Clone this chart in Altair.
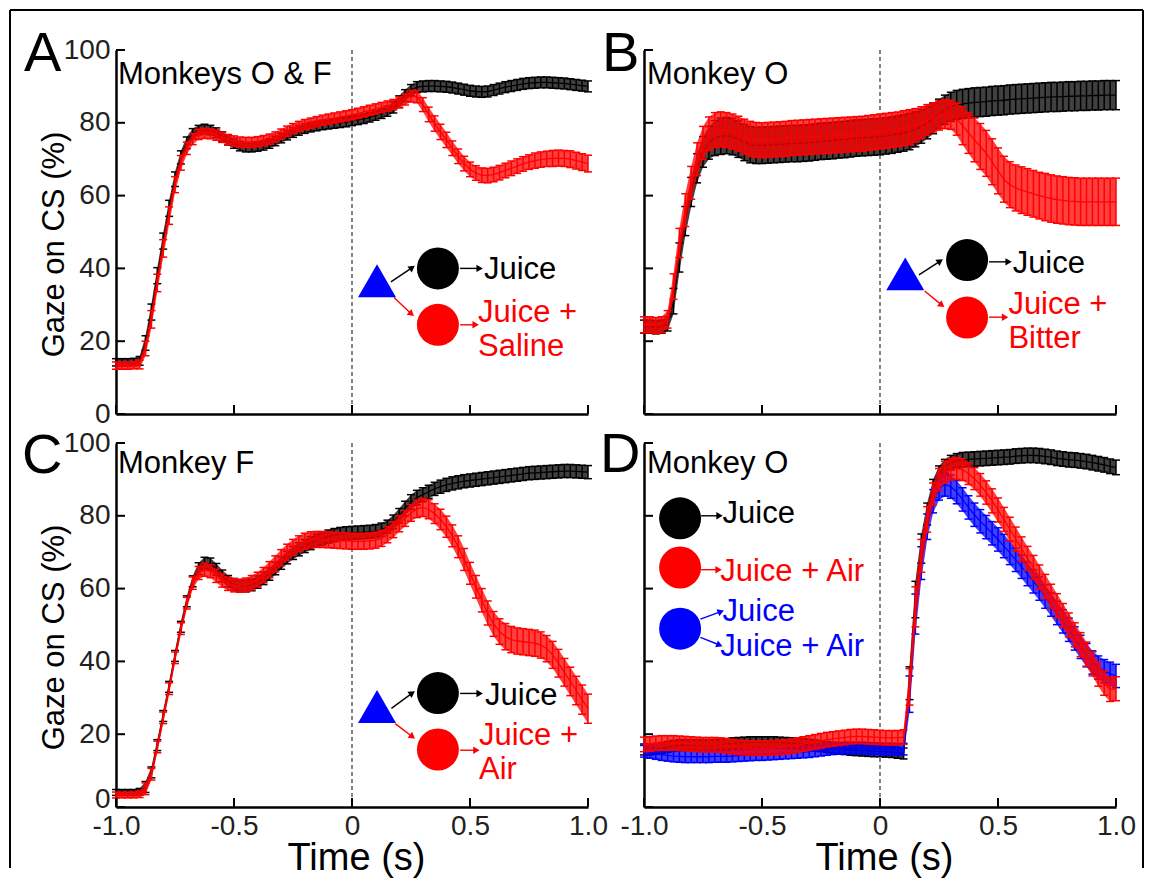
import altair as alt
import pandas as pd

# ---------------- sampling grid and axis ticks ----------------
TIME = [round(-1.0 + 0.025 * i, 3) for i in range(81)]
TIME_TICKS = [-1.0, -0.5, 0.0, 0.5, 1.0]
GAZE_TICKS = [0, 20, 40, 60, 80, 100]

# ---------------- Panel A : Monkeys O & F ----------------
A_JUICE = [
    14.2, 14.2, 14.2, 14.3, 14.6, 19.5, 28.0, 38.0, 47.5, 56.5,
    64.5, 70.5, 74.5, 77.0, 78.0, 78.3, 78.0, 77.3, 76.2, 75.2,
    74.3, 73.6, 73.3, 73.3, 73.5, 73.8, 74.3, 75.0, 75.8, 76.6,
    77.3, 77.9, 78.4, 78.8, 79.1, 79.4, 79.6, 79.8, 80.0, 80.2,
    80.5, 80.8, 81.1, 81.5, 82.0, 82.5, 83.2, 84.2, 85.8, 87.5,
    89.0, 89.8, 90.0, 90.1, 90.1, 90.0, 89.9, 89.7, 89.4, 89.1,
    88.8, 88.6, 88.5, 88.6, 89.0, 89.4, 89.8, 90.1, 90.4, 90.7,
    90.9, 91.0, 91.1, 91.1, 91.0, 90.9, 90.8, 90.6, 90.4, 90.2,
    90.0,
]
A_JUICE_SEM = [
    1.0, 1.0, 1.0, 1.0, 1.2, 2.0, 2.2, 2.2, 2.2, 2.2,
    2.0, 1.8, 1.6, 1.4, 1.3, 1.3, 1.3, 1.3, 1.3, 1.3,
    1.3, 1.3, 1.3, 1.3, 1.3, 1.3, 1.3, 1.3, 1.3, 1.3,
    1.3, 1.3, 1.3, 1.3, 1.3, 1.3, 1.3, 1.3, 1.3, 1.3,
    1.3, 1.3, 1.3, 1.3, 1.3, 1.3, 1.4, 1.5, 1.6, 1.6,
    1.5, 1.5, 1.5, 1.5, 1.5, 1.5, 1.5, 1.5, 1.5, 1.5,
    1.5, 1.5, 1.5, 1.5, 1.5, 1.5, 1.5, 1.5, 1.5, 1.5,
    1.5, 1.5, 1.5, 1.5, 1.5, 1.5, 1.5, 1.5, 1.5, 1.5,
    1.5,
]
A_SALINE = [
    13.3, 13.3, 13.3, 13.4, 13.6, 18.0, 26.0, 36.0, 45.5, 54.5,
    63.0, 69.0, 73.0, 75.5, 76.8, 77.1, 77.0, 76.6, 76.0, 75.4,
    75.0, 74.7, 74.6, 74.6, 74.8, 75.1, 75.5, 76.1, 76.9, 77.7,
    78.4, 79.0, 79.5, 79.9, 80.3, 80.7, 81.0, 81.3, 81.6, 81.9,
    82.2, 82.6, 83.0, 83.4, 83.8, 84.2, 84.6, 85.0, 85.6, 86.4,
    87.3, 87.2, 85.0, 82.3, 79.8, 77.5, 75.3, 73.0, 70.8, 68.8,
    67.2, 66.2, 65.6, 65.5, 65.8, 66.3, 66.9, 67.5, 68.1, 68.7,
    69.2, 69.6, 69.9, 70.1, 70.2, 70.3, 70.2, 70.0, 69.6, 69.2,
    68.8,
]
A_SALINE_SEM = [
    1.0, 1.0, 1.0, 1.0, 1.2, 2.0, 2.4, 2.4, 2.4, 2.4,
    2.2, 2.0, 1.7, 1.5, 1.4, 1.4, 1.4, 1.4, 1.4, 1.4,
    1.4, 1.4, 1.4, 1.4, 1.4, 1.4, 1.4, 1.4, 1.4, 1.4,
    1.4, 1.4, 1.4, 1.4, 1.4, 1.4, 1.4, 1.4, 1.4, 1.4,
    1.4, 1.4, 1.4, 1.4, 1.4, 1.4, 1.4, 1.4, 1.5, 1.5,
    1.6, 1.7, 1.9, 2.0, 2.1, 2.1, 2.1, 2.0, 2.0, 2.0,
    2.0, 2.0, 2.0, 2.0, 2.0, 2.0, 2.0, 2.0, 2.0, 2.0,
    2.0, 2.1, 2.1, 2.1, 2.2, 2.2, 2.2, 2.3, 2.3, 2.3,
    2.3,
]

# ---------------- Panel B : Monkey O, bitter ----------------
B_JUICE = [
    24.0, 24.0, 23.8, 24.0, 24.8, 31.0, 43.0, 53.0, 61.0, 67.5,
    72.0, 74.5, 75.8, 76.3, 76.5, 76.2, 75.5, 74.6, 74.0, 73.8,
    73.8, 73.9, 74.0, 74.1, 74.2, 74.3, 74.3, 74.4, 74.5, 74.7,
    74.9, 75.0, 75.1, 75.3, 75.4, 75.6, 75.8, 75.9, 76.0, 76.1,
    76.2, 76.4, 76.6, 76.9, 77.2, 77.6, 78.2, 79.0, 80.0, 81.2,
    82.5, 83.6, 84.4, 84.9, 85.2, 85.4, 85.6, 85.7, 85.8, 86.0,
    86.1, 86.2, 86.4, 86.5, 86.6, 86.7, 86.8, 86.9, 87.0, 87.1,
    87.1, 87.2, 87.3, 87.3, 87.4, 87.4, 87.5, 87.5, 87.6, 87.6,
    87.6,
]
B_JUICE_SEM = [
    1.8, 1.8, 1.8, 1.8, 2.0, 3.5, 4.0, 4.0, 4.0, 4.0,
    4.2, 4.5, 4.8, 5.0, 5.0, 5.0, 5.0, 5.0, 5.0, 5.0,
    5.0, 5.0, 5.0, 5.0, 5.0, 5.0, 5.0, 5.0, 5.0, 5.0,
    5.0, 5.0, 5.0, 5.0, 5.0, 5.0, 5.0, 5.0, 5.0, 5.0,
    5.0, 5.0, 5.0, 5.0, 5.0, 5.0, 4.8, 4.6, 4.4, 4.2,
    4.0, 4.0, 4.0, 4.0, 4.0, 4.0, 4.0, 4.0, 4.0, 4.0,
    4.0, 4.0, 4.0, 4.0, 4.0, 4.0, 4.0, 4.0, 4.0, 4.0,
    4.0, 4.0, 4.0, 4.0, 4.0, 4.0, 4.0, 4.0, 4.0, 4.0,
    4.0,
]
B_BITTER = [
    24.5, 24.5, 24.3, 24.5, 26.0, 35.0, 47.0, 56.0, 63.5, 70.0,
    74.5, 77.0, 78.0, 78.2, 78.0, 77.6, 77.0, 76.2, 75.6, 75.3,
    75.2, 75.3, 75.4, 75.5, 75.6, 75.8, 75.9, 76.0, 76.1, 76.2,
    76.3, 76.4, 76.5, 76.6, 76.7, 76.8, 76.9, 77.0, 77.2, 77.4,
    77.6, 77.8, 78.0, 78.2, 78.5, 78.8, 79.3, 80.0, 80.8, 81.5,
    82.0, 82.4, 82.2, 81.0, 79.2, 77.2, 75.3, 73.5, 71.6, 69.3,
    66.8, 64.5, 63.0, 62.1, 61.5, 61.0, 60.5, 60.0, 59.6, 59.2,
    58.9, 58.7, 58.5, 58.4, 58.3, 58.3, 58.3, 58.3, 58.3, 58.3,
    58.3,
]
B_BITTER_SEM = [
    2.2, 2.2, 2.2, 2.2, 2.4, 3.5, 4.0, 4.5, 4.5, 4.5,
    4.5, 4.6, 4.8, 4.8, 4.8, 4.8, 4.8, 4.8, 4.8, 4.8,
    4.8, 4.8, 4.8, 4.8, 4.8, 4.8, 4.8, 4.8, 4.8, 4.8,
    4.8, 4.8, 4.8, 4.8, 4.8, 4.8, 4.8, 4.8, 4.8, 4.8,
    4.8, 4.8, 4.8, 4.8, 4.8, 4.8, 4.6, 4.4, 4.2, 4.0,
    4.0, 4.0, 4.0, 4.4, 5.2, 5.6, 6.0, 6.3, 6.3, 6.3,
    6.3, 6.3, 6.3, 6.3, 6.4, 6.4, 6.4, 6.4, 6.5, 6.5,
    6.5, 6.5, 6.5, 6.5, 6.5, 6.5, 6.5, 6.5, 6.5, 6.5,
    6.5,
]

# ---------------- Panel C : Monkey F, air ----------------
C_JUICE = [
    4.0, 4.0, 4.0, 4.0, 4.2, 5.5, 9.5, 17.0, 25.0, 33.0,
    41.5, 49.5, 56.5, 62.0, 65.5, 67.0, 66.8, 65.3, 63.5, 62.0,
    61.2, 60.8, 60.7, 61.0, 61.8, 62.8, 64.0, 65.5, 67.0, 68.5,
    69.8, 70.8, 71.7, 72.5, 73.2, 73.8, 74.3, 74.7, 75.0, 75.2,
    75.3, 75.4, 75.5, 75.6, 75.8, 76.2, 77.0, 78.3, 80.0, 82.0,
    83.8, 85.0, 85.8, 86.6, 87.4, 88.0, 88.5, 88.9, 89.2, 89.5,
    89.7, 89.9, 90.1, 90.3, 90.5, 90.7, 90.9, 91.1, 91.3, 91.5,
    91.7, 91.8, 91.9, 92.0, 92.1, 92.2, 92.3, 92.3, 92.2, 92.1,
    92.0,
]
C_JUICE_SEM = [
    0.8, 0.8, 0.8, 0.8, 0.9, 1.5, 1.5, 1.5, 1.5, 1.5,
    1.5, 1.5, 1.5, 1.5, 1.6, 1.6, 1.6, 1.6, 1.6, 1.6,
    1.6, 1.6, 1.6, 1.6, 1.7, 1.7, 1.7, 1.7, 1.7, 1.7,
    1.8, 1.8, 1.8, 1.8, 1.8, 1.8, 1.8, 1.8, 1.8, 1.8,
    1.8, 1.8, 1.8, 1.8, 1.8, 1.8, 1.8, 1.9, 2.0, 2.0,
    2.0, 2.0, 1.9, 1.8, 1.8, 1.8, 1.8, 1.8, 1.8, 1.8,
    1.8, 1.8, 1.8, 1.8, 1.8, 1.8, 1.8, 1.8, 1.8, 1.8,
    1.8, 1.8, 1.8, 1.8, 1.8, 1.8, 1.8, 1.8, 1.8, 1.8,
    1.8,
]
C_AIR = [
    3.3, 3.3, 3.3, 3.3, 3.5, 5.0, 9.0, 16.5, 24.5, 32.5,
    41.0, 49.0, 56.0, 61.5, 64.3, 65.2, 64.8, 63.5, 62.2, 61.3,
    60.9, 60.8, 61.0, 61.6, 62.5, 63.7, 65.2, 66.8, 68.5, 70.0,
    71.3, 72.3, 73.0, 73.4, 73.5, 73.5, 73.4, 73.3, 73.2, 73.1,
    73.0, 73.0, 73.0, 73.1, 73.3, 73.8, 74.8, 76.2, 77.8, 79.3,
    80.8, 81.9, 82.3, 81.8, 80.6, 79.0, 77.0, 74.5, 71.5, 68.0,
    64.2, 60.5, 56.8, 53.3, 50.3, 48.2, 46.8, 46.0, 45.6, 45.4,
    45.2, 45.0, 44.5, 43.5, 41.8, 39.5, 37.0, 34.5, 32.0, 29.5,
    27.0,
]
C_AIR_SEM = [
    0.8, 0.8, 0.8, 0.8, 0.9, 1.6, 1.6, 1.6, 1.6, 1.6,
    1.6, 1.6, 1.6, 1.7, 1.8, 1.8, 1.8, 1.8, 1.8, 1.8,
    1.8, 1.8, 1.9, 2.0, 2.0, 2.1, 2.2, 2.2, 2.2, 2.2,
    2.2, 2.2, 2.2, 2.2, 2.2, 2.2, 2.2, 2.2, 2.2, 2.2,
    2.2, 2.2, 2.2, 2.2, 2.2, 2.2, 2.2, 2.2, 2.2, 2.2,
    2.3, 2.4, 2.5, 2.6, 2.7, 2.8, 2.9, 3.0, 3.0, 3.0,
    3.0, 3.1, 3.2, 3.3, 3.4, 3.5, 3.6, 3.6, 3.6, 3.6,
    3.6, 3.6, 3.6, 3.6, 3.7, 3.8, 3.8, 3.9, 3.9, 4.0,
    4.0,
]

# ---------------- Panel D : Monkey O, air vs uncertain ----------------
D_JUICE = [
    15.8, 15.8, 16.0, 16.2, 16.5, 16.8, 17.0, 17.0, 17.0, 17.0,
    16.9, 16.9, 17.0, 17.1, 17.3, 17.5, 17.6, 17.7, 17.8, 17.8,
    17.8, 17.8, 17.8, 17.7, 17.6, 17.5, 17.4, 17.3, 17.1, 16.9,
    16.7, 16.5, 16.3, 16.1, 15.9, 15.7, 15.6, 15.5, 15.4, 15.3,
    15.3, 15.2, 15.1, 14.9, 14.7, 34.0, 57.0, 71.0, 80.5, 87.5,
    91.5, 93.5, 94.6, 95.1, 95.4, 95.5, 95.6, 95.7, 95.8, 95.9,
    96.0, 96.1, 96.2, 96.4, 96.5, 96.6, 96.6, 96.5, 96.3, 96.1,
    95.8, 95.6, 95.4, 95.3, 95.1, 94.9, 94.6, 94.3, 94.0, 93.6,
    93.3,
]
D_JUICE_SEM = [
    1.5, 1.5, 1.5, 1.5, 1.5, 1.5, 1.5, 1.5, 1.5, 1.5,
    1.5, 1.5, 1.5, 1.5, 1.5, 1.5, 1.5, 1.5, 1.5, 1.5,
    1.5, 1.5, 1.5, 1.5, 1.5, 1.5, 1.5, 1.5, 1.5, 1.5,
    1.5, 1.5, 1.5, 1.5, 1.5, 1.5, 1.5, 1.5, 1.5, 1.5,
    1.5, 1.5, 1.5, 1.5, 1.5, 4.5, 5.0, 4.0, 3.0, 2.5,
    2.2, 2.0, 2.0, 2.0, 2.0, 2.0, 2.0, 2.0, 2.0, 2.0,
    2.0, 2.0, 2.0, 2.0, 2.0, 2.0, 2.0, 2.0, 2.0, 2.0,
    2.0, 2.0, 2.0, 2.0, 2.0, 2.0, 2.0, 2.0, 2.0, 2.0,
    2.0,
]
D_AIR = [
    17.2, 17.3, 17.5, 17.6, 17.6, 17.6, 17.5, 17.4, 17.3, 17.2,
    17.1, 17.1, 17.1, 17.0, 16.8, 16.6, 16.4, 16.3, 16.2, 16.2,
    16.2, 16.2, 16.3, 16.4, 16.5, 16.7, 17.0, 17.3, 17.6, 17.9,
    18.2, 18.5, 18.7, 18.9, 19.1, 19.3, 19.4, 19.4, 19.3, 19.2,
    19.1, 19.0, 19.0, 19.0, 19.2, 33.0, 55.0, 69.0, 79.0, 86.0,
    90.0, 92.0, 92.8, 93.0, 92.7, 91.6, 90.2, 88.5, 86.4, 84.1,
    81.6, 79.0, 76.3, 73.6, 70.9, 68.3, 65.8, 63.2, 60.6, 57.9,
    55.3, 52.6, 50.0, 47.3, 44.6, 42.0, 39.3, 36.5, 34.0, 32.3,
    32.5,
]
D_AIR_SEM = [
    2.0, 2.0, 2.0, 2.0, 2.0, 2.0, 2.0, 2.0, 2.0, 2.0,
    2.0, 2.0, 2.0, 2.0, 2.0, 2.0, 2.0, 2.0, 2.0, 2.0,
    2.0, 2.0, 2.0, 2.0, 2.0, 2.0, 2.0, 2.0, 2.0, 2.0,
    2.0, 2.0, 2.0, 2.0, 2.0, 2.0, 2.0, 2.0, 2.0, 2.0,
    2.0, 2.0, 2.0, 2.0, 2.0, 5.0, 5.5, 4.5, 3.5, 3.0,
    3.0, 3.0, 3.0, 3.0, 3.0, 3.0, 3.0, 3.1, 3.2, 3.3,
    3.3, 3.3, 3.3, 3.3, 3.3, 3.3, 3.3, 3.3, 3.3, 3.3,
    3.3, 3.3, 3.3, 3.3, 3.3, 3.3, 3.3, 3.3, 3.3, 3.3,
    3.3,
]
D_MIX = [
    15.3, 15.0, 14.7, 14.4, 14.2, 14.0, 13.9, 13.8, 13.8, 13.8,
    13.8, 13.8, 13.9, 13.9, 13.9, 14.0, 14.1, 14.2, 14.3, 14.4,
    14.4, 14.5, 14.6, 14.7, 14.8, 14.9, 15.0, 15.1, 15.2, 15.4,
    15.6, 15.8, 16.0, 16.1, 16.2, 16.2, 16.2, 16.2, 16.1, 16.0,
    16.0, 15.9, 15.9, 15.8, 15.9, 31.0, 53.0, 67.0, 77.0, 84.0,
    87.5, 88.6, 88.0, 86.5, 84.5, 82.3, 80.3, 78.5, 76.9, 75.2,
    73.5, 71.7, 69.8, 67.9, 66.0, 64.0, 62.0, 60.0, 57.8, 55.6,
    53.3, 51.0, 48.7, 46.3, 44.0, 41.7, 39.7, 38.3, 37.3, 36.6,
    36.0,
]
D_MIX_SEM = [
    1.6, 1.6, 1.6, 1.6, 1.6, 1.6, 1.6, 1.6, 1.6, 1.6,
    1.6, 1.6, 1.6, 1.6, 1.6, 1.6, 1.6, 1.6, 1.6, 1.6,
    1.6, 1.6, 1.6, 1.6, 1.6, 1.6, 1.6, 1.6, 1.6, 1.6,
    1.6, 1.6, 1.6, 1.6, 1.6, 1.6, 1.6, 1.6, 1.6, 1.6,
    1.6, 1.6, 1.6, 1.6, 1.6, 5.0, 5.5, 4.5, 3.5, 3.2,
    3.2, 3.2, 3.2, 3.2, 3.2, 3.2, 3.2, 3.2, 3.2, 3.2,
    3.2, 3.2, 3.2, 3.2, 3.2, 3.2, 3.2, 3.2, 3.2, 3.2,
    3.2, 3.2, 3.2, 3.2, 3.2, 3.2, 3.2, 3.2, 3.2, 3.2,
    3.2,
]

# ---------------- styling ----------------
W, H = 472, 364
FONT = "Liberation Sans"
INK = "#231f20"
BLACK, RED, BLUE = "#000000", "#ff0000", "#0000ff"
LEGEND_FONT = 31

# schematic legends, placed in data units (time, % gaze)
LEGEND_A = {
    "tri": [(0.106, 36.6)],
    "circles": [(0.364, 40.0, BLACK), (0.364, 24.5, RED)],
    "arrows": [(0.165, 36.3, 0.255, 40.2, BLACK, 325), (0.178, 32.0, 0.252, 27.5, RED, 40),
               (0.458, 40.0, 0.541, 40.0, BLACK, 0), (0.458, 24.5, 0.524, 24.5, RED, 0)],
    "texts": [(0.559, 37.1, "Juice", BLACK), (0.534, 25.2, "Juice +", RED), (0.534, 16.0, "Saline", RED)],
}
LEGEND_B = {
    "tri": [(0.107, 38.5)],
    "circles": [(0.369, 42.3, BLACK), (0.369, 26.5, RED)],
    "arrows": [(0.165, 38.2, 0.255, 42.0, BLACK, 327), (0.189, 33.8, 0.262, 29.9, RED, 37),
               (0.462, 41.8, 0.545, 41.8, BLACK, 0), (0.462, 26.6, 0.530, 26.6, RED, 0)],
    "texts": [(0.562, 38.8, "Juice", BLACK), (0.544, 27.4, "Juice +", RED), (0.544, 18.2, "Bitter", RED)],
}
LEGEND_C = {
    "tri": [(0.106, 27.6)],
    "circles": [(0.364, 31.3, BLACK), (0.364, 15.8, RED)],
    "arrows": [(0.167, 27.1, 0.255, 31.3, BLACK, 326), (0.183, 22.9, 0.256, 19.3, RED, 38),
               (0.458, 31.2, 0.541, 31.2, BLACK, 0), (0.458, 15.6, 0.527, 15.6, RED, 0)],
    "texts": [(0.564, 28.0, "Juice", BLACK), (0.538, 17.0, "Juice +", RED), (0.538, 7.8, "Air", RED)],
}
LEGEND_D = {
    "tri": [],
    "circles": [(-0.847, 79.3, BLACK), (-0.847, 65.8, RED), (-0.847, 49.0, BLUE)],
    "arrows": [(-0.758, 80.0, -0.68, 80.0, BLACK, 0), (-0.758, 65.2, -0.684, 65.2, RED, 0),
               (-0.761, 51.6, -0.674, 53.7, BLUE, 339), (-0.761, 46.6, -0.68, 44.5, BLUE, 22)],
    "texts": [(-0.667, 78.0, "Juice", BLACK), (-0.677, 62.0, "Juice + Air", RED),
              (-0.667, 51.2, "Juice", BLUE), (-0.677, 41.6, "Juice + Air", BLUE)],
}

XS = alt.Scale(domain=[-1, 1], nice=False, zero=False)
YS = alt.Scale(domain=[0, 100], nice=False)

ONE = pd.DataFrame({"k": [0]})
ZERO = pd.DataFrame({"t": [0.0], "top": [100.0], "bottom": [0.0]})
XT = pd.DataFrame({"t": TIME_TICKS})
YT = pd.DataFrame({"g": GAZE_TICKS})

LABEL_EXPR = ("datum.value == 0 ? '0' : (datum.value < 0 ? '-' + format(-datum.value, '.1f') "
              ": format(datum.value, '.1f'))")


def x_axis(show):
    common = dict(values=TIME_TICKS, ticks=False, tickSize=0, domainColor=BLACK,
                  domainWidth=2.5, grid=False)
    if show:
        return alt.Axis(labels=True, labelExpr=LABEL_EXPR, labelFontSize=28, labelColor=INK,
                        labelFont=FONT, labelPadding=5, labelFlush=False,
                        title="Time (s)", titleFont=FONT, titleFontSize=38,
                        titleFontWeight="normal", titleColor=BLACK, titleBaseline="alphabetic",
                        titleAlign="center", titleX=W / 2 + 4, titleY=62, **common)
    return alt.Axis(labels=False, title=None, **common)


def y_axis(show, raise_zero=False):
    common = dict(values=GAZE_TICKS, ticks=False, tickSize=0, domainColor=BLACK,
                  domainWidth=2.5, grid=False)
    if show:
        extra = {}
        if raise_zero:
            extra["labelOffset"] = alt.condition("datum.value == 0", alt.value(-8), alt.value(0))
        return alt.Axis(labels=True, labelFontSize=28, labelColor=INK, labelFont=FONT,
                        labelPadding=6, title="Gaze on CS (%)", titleFont=FONT,
                        titleFontSize=31, titleFontWeight="normal", titleColor=BLACK,
                        titleAngle=270, titleBaseline="alphabetic", titleAlign="center",
                        titleX=-53, titleY=194, **extra, **common)
    return alt.Axis(labels=False, title=None, **common)


def make_panel(series, legend, letter, letter_xy, label, label_xy, show_y, show_x, border=False):
    xa, ya = x_axis(show_x), y_axis(show_y, raise_zero=show_x)

    def X(f):
        return alt.X(f"{f}:Q", scale=XS, axis=xa)

    def Y(f):
        return alt.Y(f"{f}:Q", scale=YS, axis=ya)

    layers = []
    # dashed stimulus-onset line
    layers.append(alt.Chart(ZERO).mark_rule(color="#333333", strokeDash=[4, 3], strokeWidth=1.2)
                  .encode(x=X("t"), y=Y("top"), y2=alt.Y2("bottom")))
    # error-bar series
    for mean, sem, col in series:
        df = pd.DataFrame({
            "t": TIME, "m": mean,
            "lo": [m - s for m, s in zip(mean, sem)],
            "hi": [m + s for m, s in zip(mean, sem)],
        })
        base = alt.Chart(df)
        layers.append(base.mark_area(color=col, opacity=0.75)
                      .encode(x=X("t"), y=Y("lo"), y2=alt.Y2("hi")))
        layers.append(base.mark_rule(color=col, strokeWidth=1.5)
                      .encode(x=X("t"), y=Y("lo"), y2=alt.Y2("hi")))
        for f in ("lo", "hi"):
            layers.append(base.mark_tick(color=col, orient="horizontal", size=8, thickness=1.5,
                                         opacity=1).encode(x=X("t"), y=Y(f)))
        layers.append(base.mark_line(color=col, strokeWidth=1.3).encode(x=X("t"), y=Y("m")))

    # inward ticks
    layers.append(alt.Chart(XT).mark_rule(color=BLACK, strokeWidth=2)
                  .encode(x=X("t"), y=alt.value(H), y2=alt.value(H - 9)))
    layers.append(alt.Chart(YT).mark_rule(color=BLACK, strokeWidth=2)
                  .encode(y=Y("g"), x=alt.value(0), x2=alt.value(9)))

    # schematic legend
    if legend["arrows"]:
        adf = pd.DataFrame(legend["arrows"], columns=["t", "v", "t2", "v2", "color", "ang"])
        layers.append(alt.Chart(adf).mark_rule(strokeWidth=1.4).encode(
            x=X("t"), y=Y("v"), x2=alt.X2("t2"), y2=alt.Y2("v2"),
            color=alt.Color("color:N", scale=None)))
        layers.append(alt.Chart(adf).mark_point(shape="triangle-right", filled=True, size=55,
                                                opacity=1, strokeWidth=0).encode(
            x=X("t2"), y=Y("v2"), angle=alt.Angle("ang:Q", scale=None),
            color=alt.Color("color:N", scale=None)))
    if legend["tri"]:
        tdf = pd.DataFrame(legend["tri"], columns=["t", "v"])
        layers.append(alt.Chart(tdf).mark_point(shape="triangle-up", filled=True, size=1444,
                                                color=BLUE, opacity=1, strokeWidth=0)
                      .encode(x=X("t"), y=Y("v")))
    cdf = pd.DataFrame(legend["circles"], columns=["t", "v", "color"])
    layers.append(alt.Chart(cdf).mark_point(shape="circle", filled=True, size=1764, opacity=1,
                                            strokeWidth=0).encode(
        x=X("t"), y=Y("v"), color=alt.Color("color:N", scale=None)))
    xdf = pd.DataFrame(legend["texts"], columns=["t", "v", "text", "color"])
    layers.append(alt.Chart(xdf).mark_text(align="left", baseline="alphabetic",
                                           fontSize=LEGEND_FONT, font=FONT).encode(
        x=X("t"), y=Y("v"), text="text:N", color=alt.Color("color:N", scale=None)))

    # panel letter and monkey label
    layers.append(alt.Chart(ONE).mark_text(text=letter, fontSize=56, font=FONT, align="left",
                                           baseline="alphabetic", color=BLACK)
                  .encode(x=alt.value(letter_xy[0]), y=alt.value(letter_xy[1])))
    layers.append(alt.Chart(ONE).mark_text(text=label, fontSize=31, font=FONT, align="left",
                                           baseline="alphabetic", color=BLACK)
                  .encode(x=alt.value(label_xy[0]), y=alt.value(label_xy[1])))

    if border:
        frame = dict(color=BLACK, strokeWidth=2)
        layers.append(alt.Chart(ONE).mark_rule(**frame).encode(
            x=alt.value(-106), y=alt.value(-40), y2=alt.value(818)))
        layers.append(alt.Chart(ONE).mark_rule(**frame).encode(
            x=alt.value(-106), x2=alt.value(1027), y=alt.value(-40)))
        layers.append(alt.Chart(ONE).mark_rule(**frame).encode(
            x=alt.value(1027), y=alt.value(-40), y2=alt.value(818)))

    return alt.layer(*layers).properties(width=W, height=H)


pA = make_panel([(A_JUICE, A_JUICE_SEM, BLACK), (A_SALINE, A_SALINE_SEM, RED)], LEGEND_A,
                "A", (-92, 21), "Monkeys O & F", (2, 34), True, False, border=True)
pB = make_panel([(B_JUICE, B_JUICE_SEM, BLACK), (B_BITTER, B_BITTER_SEM, RED)], LEGEND_B,
                "B", (-42, 21), "Monkey O", (3, 34), False, False)
pC = make_panel([(C_JUICE, C_JUICE_SEM, BLACK), (C_AIR, C_AIR_SEM, RED)], LEGEND_C,
                "C", (-94, 30), "Monkey F", (2, 30), True, True)
pD = make_panel([(D_JUICE, D_JUICE_SEM, BLACK), (D_MIX, D_MIX_SEM, BLUE), (D_AIR, D_AIR_SEM, RED)],
                LEGEND_D, "D", (-44, 29), "Monkey O", (3, 30), False, True)

chart = (
    alt.concat(pA, pB, pC, pD, columns=2, spacing=alt.RowColnumber(row=29, column=56),
               bounds="flush")
    .properties(padding=0)
    .configure(font=FONT)
    .configure_view(stroke="transparent")
)

chart.save("out.html", embed_options={"renderer": "svg", "actions": False})
